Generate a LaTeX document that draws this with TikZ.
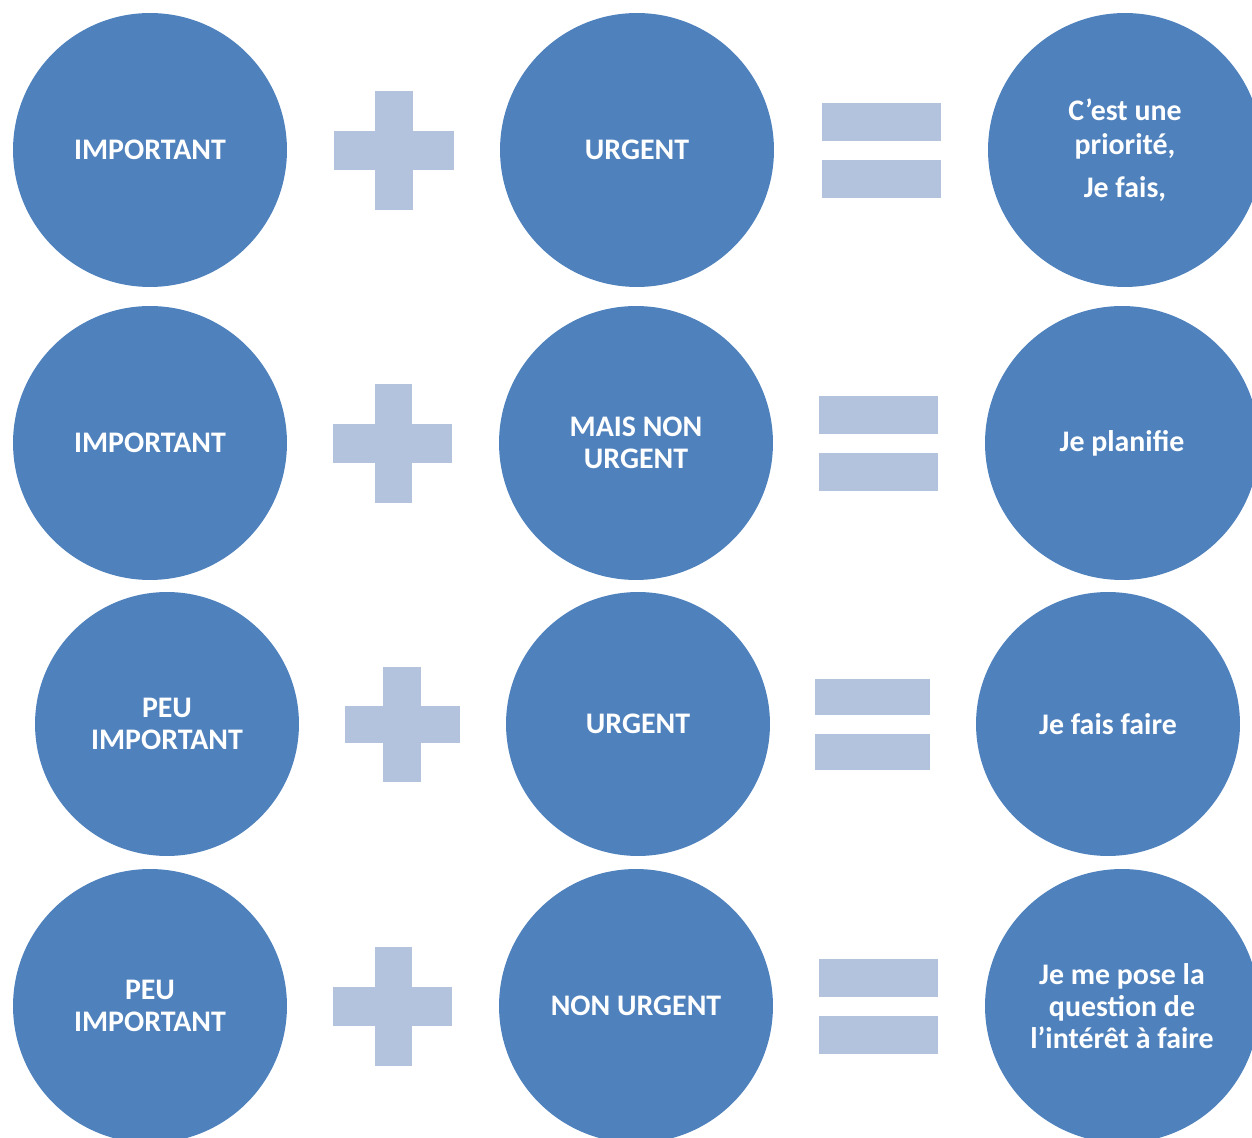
\documentclass[tikz,border=0pt]{standalone}
\usepackage{fontspec}
\setmainfont{Carlito}

\definecolor{discblue}{RGB}{79,129,189}
\definecolor{signblue}{RGB}{179,194,221}

\tikzset{
  disc/.style={circle, fill=discblue, text=white, minimum size=5.48cm,
    inner sep=0pt, align=center,
    font=\fontsize{17}{18.2}\selectfont\bfseries},
  smalldisc/.style={disc, minimum size=5.28cm},
  sign/.style={fill=signblue}
}

\begin{document}
\begin{tikzpicture}[x=0.02cm, y=-0.02cm]
  % Frame
  \useasboundingbox (0,0) rectangle (1252,1138);
  \clip (0,0) rectangle (1252,1138);

  % Row 1
  \node[disc] (imp1) at (150,150) {IMPORTANT};
  \node[disc] (urg1) at (637,150) {URGENT};
  \node[disc] (res1) at (1125,150) {C’est une\\[1pt]priorité,\\[6.5pt]Je fais,};
  \fill[sign] (375,91) rectangle (413,210);
  \fill[sign] (334,131) rectangle (454,170);
  \fill[sign] (822,103) rectangle (941,141);
  \fill[sign] (822,160) rectangle (941,198);

  % Row 2
  \node[disc] (imp2) at (150,443) {IMPORTANT};
  \node[disc] (urg2) at (636,443) {MAIS NON\\URGENT};
  \node[disc] (res2) at (1122,443) {Je planifie};
  \fill[sign] (375,384) rectangle (412,503);
  \fill[sign] (333,424) rectangle (452,463);
  \fill[sign] (819,396) rectangle (938,434);
  \fill[sign] (819,453) rectangle (938,491);

  % Row 3
  \node[smalldisc] (imp3) at (167,724) {PEU\\IMPORTANT};
  \node[smalldisc] (urg3) at (638,724) {URGENT};
  \node[smalldisc] (res3) at (1108,724) {Je fais faire};
  \fill[sign] (383,667) rectangle (421,782);
  \fill[sign] (345,706) rectangle (460,743);
  \fill[sign] (815,679) rectangle (930,715);
  \fill[sign] (815,734) rectangle (930,770);

  % Row 4
  \node[disc] (imp4) at (150,1006) {PEU\\IMPORTANT};
  \node[disc] (urg4) at (636,1006) {NON URGENT};
  \node[disc] (res4) at (1122,1006) {Je me pose la\\question de\\l’intérêt à faire};
  \fill[sign] (375,947) rectangle (412,1066);
  \fill[sign] (333,987) rectangle (452,1026);
  \fill[sign] (819,959) rectangle (938,997);
  \fill[sign] (819,1016) rectangle (938,1054);
\end{tikzpicture}
\end{document}
